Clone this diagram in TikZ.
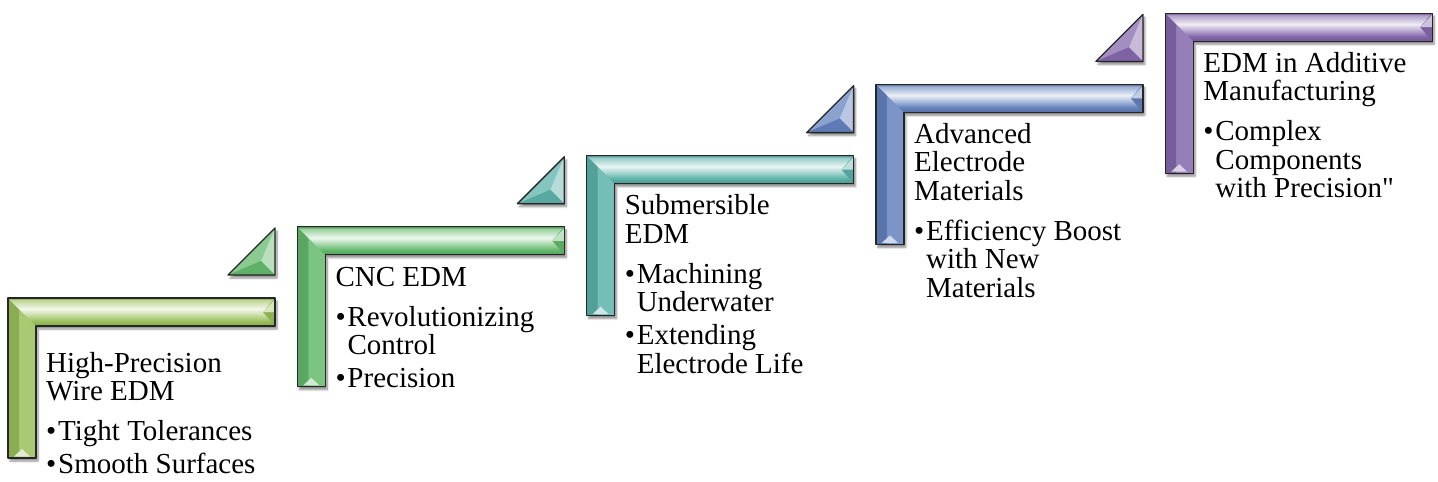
\documentclass[tikz,border=0pt]{standalone}
\usepackage{fontspec}
\setmainfont{Liberation Serif}[Ligatures=TeXOff]
\usetikzlibrary{shadows.blur}
\definecolor{cA}{RGB}{155,192,90}
\definecolor{cB}{RGB}{100,186,108}
\definecolor{cC}{RGB}{92,178,170}
\definecolor{cD}{RGB}{100,130,190}
\definecolor{cE}{RGB}{132,104,172}
\def\W{267}\def\T{28}\def\V{28}\def\H{160}\def\B{11}
\newcommand\bul[1]{\makebox[12pt][l]{•}#1}
\newcommand\cont[1]{\hspace*{12pt}#1}
\tikzset{
  outl/.style={draw=black!85,line width=1.3pt,line join=round},
  stepshadow/.style={blur shadow={shadow xshift=2pt,shadow yshift=-3pt,shadow blur steps=8,shadow opacity=45}},
  steptext/.style={anchor=base west,inner sep=0pt,font=\fontsize{29}{28.5}\selectfont}
}
% L-shaped bracket: #1 x, #2 y, #3 colour
\newcommand\lshape[3]{%
\pgfdeclareverticalshading{tb#3}{100bp}{%
  color(0bp)=(#3!85!black); color(25bp)=(#3!85!black); color(33.9bp)=(#3);
  color(44.6bp)=(#3!55!white); color(55.4bp)=(#3!12!white); color(71.4bp)=(#3!65!white);
  color(75bp)=(#3!80!black); color(100bp)=(#3!80!black)}%
\begin{scope}[shift={(#1,#2)}]
 \path[stepshadow,fill=#3!85!white] (0,0) -- (\W,0) -- (\W,\T) -- (\V,\T) -- (\V,\H) -- (0,\H) -- cycle;
 % left band of vertical bar
 \fill[#3!90!black] (0,0) -- (\B,\B) -- (\B,\H) -- (0,\H) -- cycle;
 % top bar with miter
 \shade[shading=tb#3] (0,0) -- (\W,0) -- (\W,\T) -- (\V,\T) -- cycle;
 % right end chevron
 \fill[#3!92!black] (\W,0) -- (\W,\T) -- (\W-12,\T/2) -- cycle;
 \fill[#3!40!white] (\W,1.5) -- (\W-12,\T/2) -- (\W,\T/2) -- cycle;
 % bottom highlight
 \fill[#3!30!white] (\V/2-8,\H-1.5) -- (\V/2,\H-9) -- (\V/2+8,\H-1.5) -- cycle;
 \draw[outl] (0,0) -- (\W,0) -- (\W,\T) -- (\V,\T) -- (\V,\H) -- (0,\H) -- cycle;
\end{scope}}
% triangle: #1 right x, #2 bottom y, #3 colour
\newcommand\ltri[3]{%
\begin{scope}[shift={(#1,#2)}]
 \path[stepshadow,fill=#3] (0,-47) -- (0,0) -- (-47,0) -- cycle;
 \fill[#3!75!white] (0,-47) -- (-47,0) -- (-14,-14) -- cycle;
 \fill[#3!45!white] (0,-47) -- (0,0) -- (-14,-14) -- cycle;
 \fill[#3!95!black] (0,0) -- (-47,0) -- (-14,-14) -- cycle;
 \draw[outl] (0,-47) -- (0,0) -- (-47,0) -- cycle;
\end{scope}}
\begin{document}
\begin{tikzpicture}[x=1pt,y=-1pt]
\useasboundingbox (0,0) rectangle (1438,482);
\lshape{8}{298}{cA}
\lshape{297.3}{226.8}{cB}
\lshape{586.6}{155.6}{cC}
\lshape{875.9}{84.4}{cD}
\lshape{1165.2}{13.2}{cE}
\ltri{275}{275}{cB}
\ltri{564.3}{203.8}{cC}
\ltri{853.6}{132.6}{cD}
\ltri{1142.9}{61.4}{cE}
\node[steptext] (t1) at (46,372) {\parbox[t]{260pt}{\raggedright
 High-Precision\\Wire EDM\\[11.5pt]\bul{Tight Tolerances}\\[4.5pt]\bul{Smooth Surfaces}}};
\node[steptext] (t2) at (335.3,286) {\parbox[t]{260pt}{\raggedright
 CNC EDM\\[11.5pt]\bul{Revolutionizing}\\\cont{Control}\\[4.5pt]\bul{Precision}}};
\node[steptext] (t3) at (624.6,214.6) {\parbox[t]{260pt}{\raggedright
 Submersible\\EDM\\[11.5pt]\bul{Machining}\\\cont{Underwater}\\[4.5pt]\bul{Extending}\\\cont{Electrode Life}}};
\node[steptext] (t4) at (913.9,143.4) {\parbox[t]{260pt}{\raggedright
 Advanced\\Electrode\\Materials\\[11.5pt]\bul{Efficiency Boost}\\\cont{with New}\\\cont{Materials}}};
\node[steptext] (t5) at (1203.2,72.2) {\parbox[t]{260pt}{\raggedright
 EDM in Additive\\Manufacturing\\[11.5pt]\bul{Complex}\\\cont{Components}\\\cont{with Precision"}}};
\end{tikzpicture}
\end{document}
